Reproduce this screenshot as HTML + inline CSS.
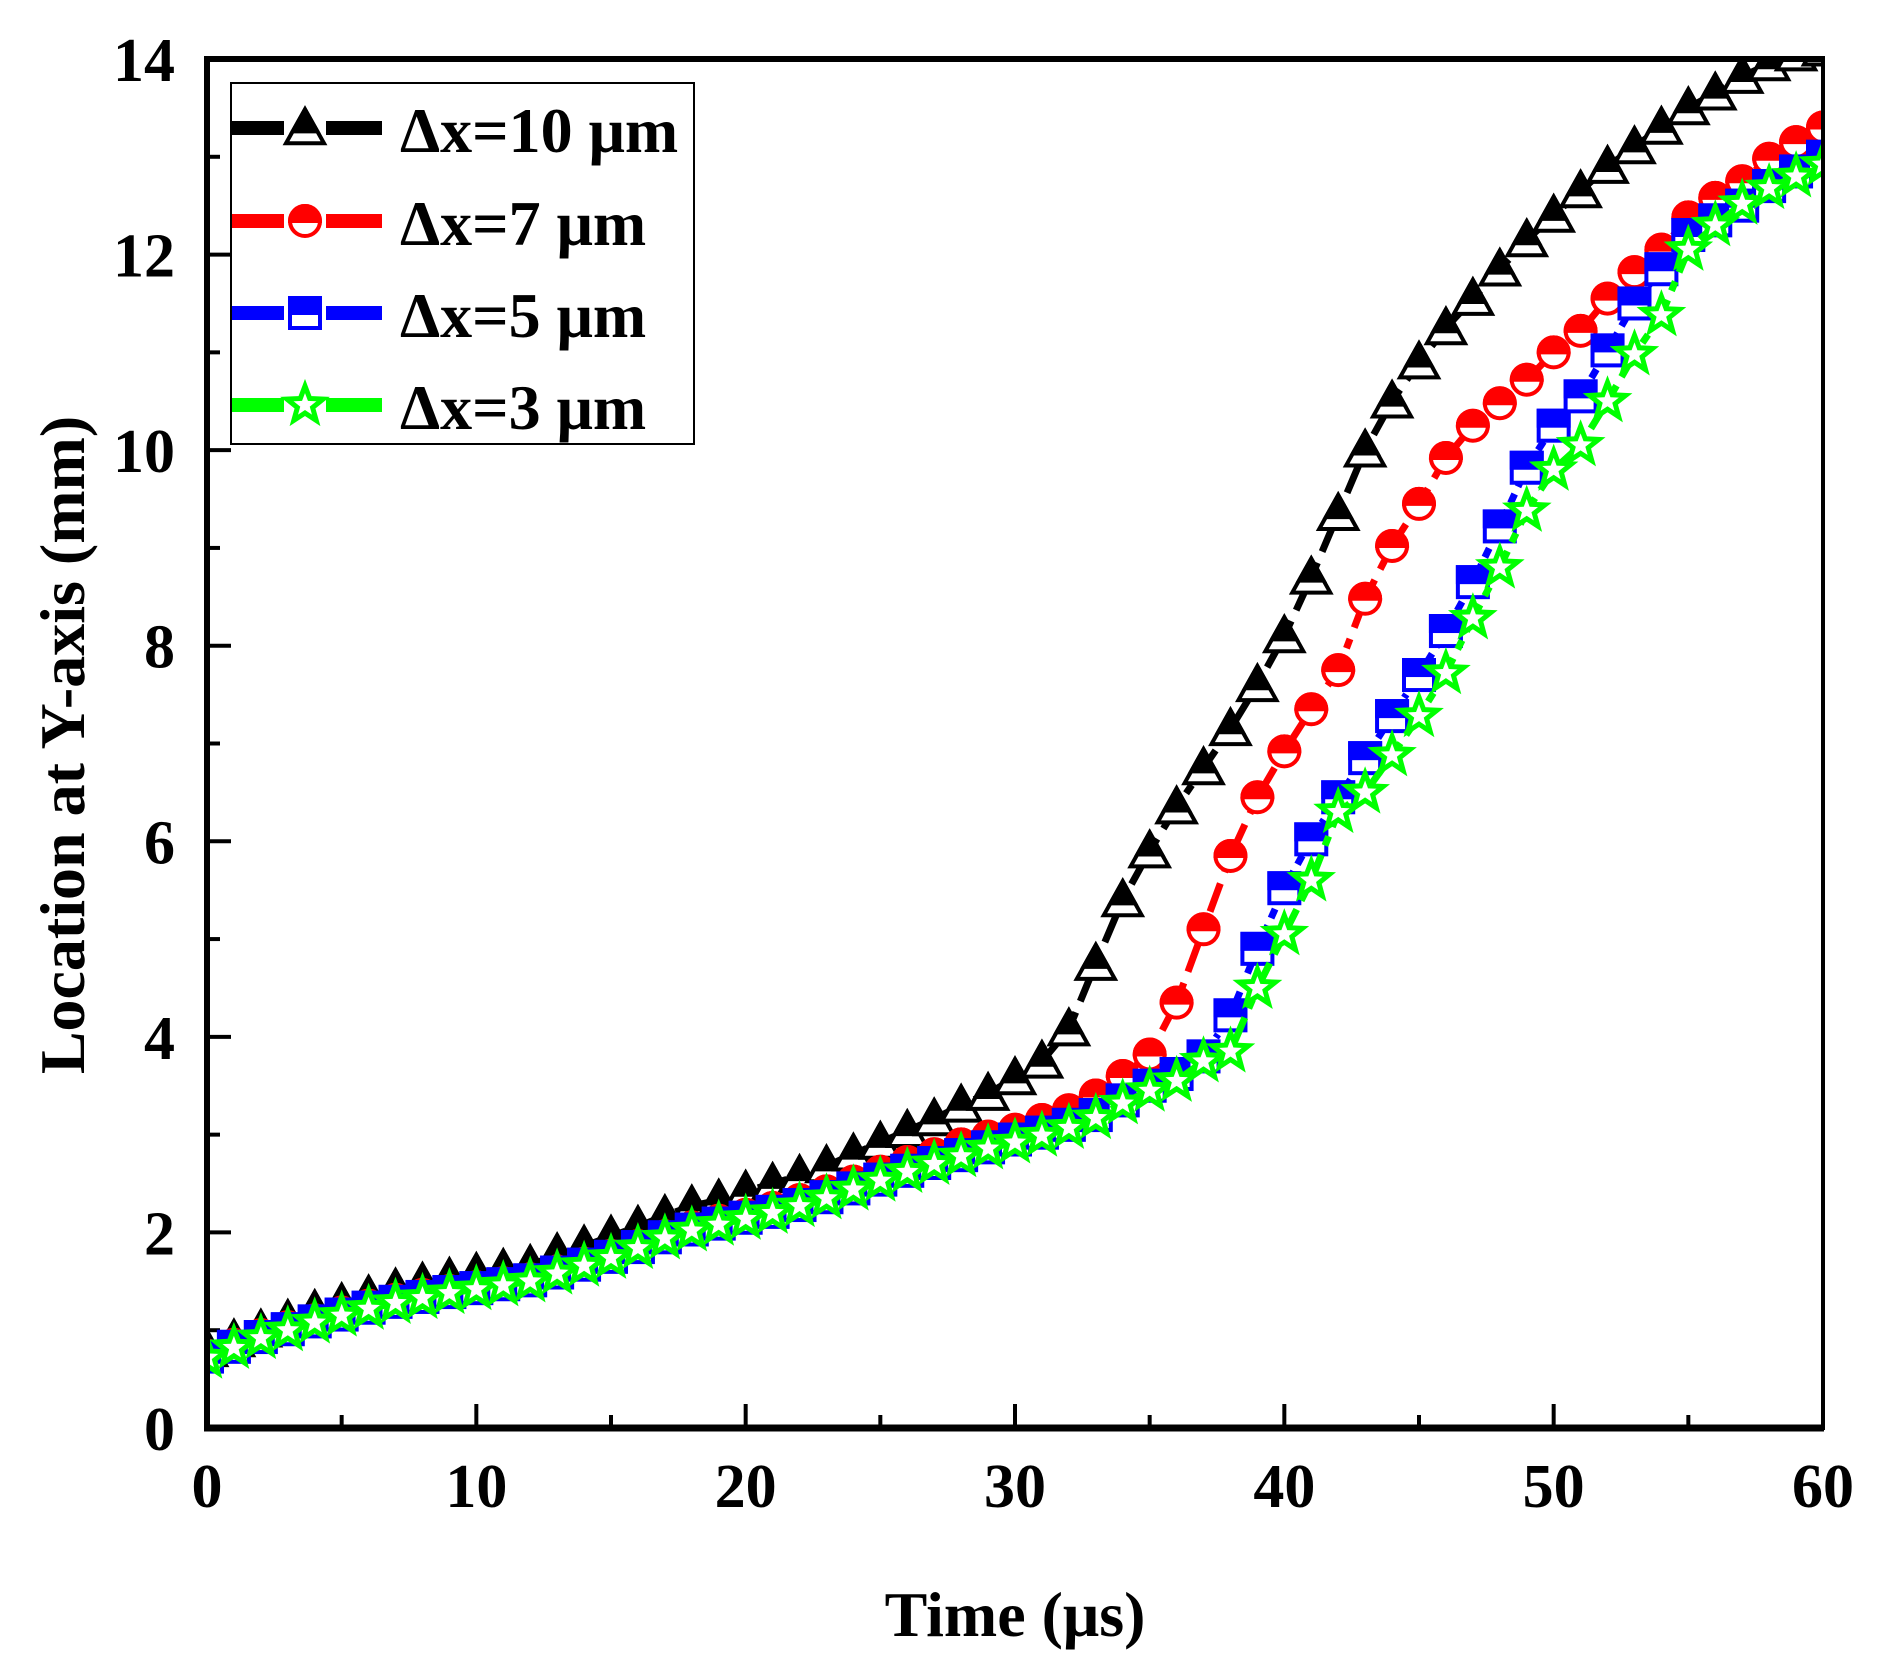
<!DOCTYPE html>
<html><head><meta charset="utf-8"><style>
body{margin:0;background:#fff}
svg{display:block;font-family:"Liberation Serif",serif;font-weight:bold}
</style></head><body>
<svg id="chart" width="1879" height="1678" viewBox="0 0 1879 1678" xmlns="http://www.w3.org/2000/svg">
<defs><clipPath id="plotclip"><rect x="207" y="57" width="1616" height="1371"/></clipPath></defs>
<g id="grid-ticks"></g>
<g id="series" clip-path="url(#plotclip)"></g>
<rect x="207" y="58" width="1616" height="1370" fill="none" stroke="#000" stroke-width="4"/>
<line x1="204" y1="1428" x2="1824" y2="1428" stroke="#000" stroke-width="7"/>
<line x1="207" y1="56" x2="207" y2="1431" stroke="#000" stroke-width="6"/>
<line x1="204" y1="59" x2="1824" y2="59" stroke="#000" stroke-width="6"/>
<text x="1015" y="1636" font-size="64" text-anchor="middle">Time (μs)</text>
<text transform="translate(84,745) rotate(-90)" font-size="64" text-anchor="middle">Location at Y-axis (mm)</text>
<g id="legend">
<rect x="231" y="83" width="463" height="361" fill="#fff" stroke="#000" stroke-width="2"/>
</g>
</svg>
<script>
const times = [];
for (let i = 0; i <= 60; i++) times.push(i);
const xTicks = [0,10,20,30,40,50,60];
const yTicks = [0,2,4,6,8,10,12,14];
const seriesNames = ["Δx=10 μm","Δx=7 μm","Δx=5 μm","Δx=3 μm"];
const s10 = [0.8,0.9,1.0,1.1,1.2,1.27,1.35,1.42,1.48,1.53,1.58,1.62,1.66,1.78,1.86,1.96,2.06,2.17,2.27,2.33,2.42,2.5,2.58,2.68,2.8,2.92,3.04,3.16,3.3,3.42,3.58,3.75,4.08,4.75,5.4,5.9,6.35,6.75,7.15,7.6,8.1,8.7,9.35,10.0,10.5,10.9,11.25,11.55,11.85,12.15,12.4,12.65,12.9,13.1,13.3,13.5,13.65,13.82,13.95,14.05,14.1];
const s7 = [0.74,0.85,0.95,1.03,1.1,1.18,1.25,1.31,1.36,1.4,1.44,1.48,1.52,1.6,1.68,1.76,1.86,1.96,2.05,2.12,2.18,2.25,2.33,2.42,2.52,2.62,2.72,2.8,2.9,2.98,3.05,3.15,3.25,3.4,3.6,3.82,4.35,5.1,5.85,6.45,6.92,7.35,7.75,8.48,9.02,9.45,9.92,10.25,10.48,10.72,11.0,11.22,11.55,11.82,12.05,12.38,12.58,12.75,12.98,13.15,13.3];
const s5 = [0.73,0.83,0.93,1.01,1.09,1.16,1.23,1.29,1.34,1.39,1.43,1.47,1.51,1.59,1.67,1.75,1.85,1.95,2.03,2.09,2.15,2.21,2.28,2.36,2.45,2.54,2.63,2.71,2.79,2.87,2.95,3.02,3.1,3.2,3.35,3.5,3.62,3.8,4.22,4.9,5.52,6.02,6.45,6.85,7.28,7.7,8.15,8.65,9.22,9.82,10.25,10.55,11.02,11.5,11.85,12.2,12.35,12.5,12.7,12.85,13.0];
const s3 = [0.72,0.82,0.92,1.0,1.08,1.15,1.22,1.28,1.33,1.38,1.42,1.46,1.5,1.58,1.66,1.74,1.84,1.94,2.02,2.08,2.14,2.2,2.27,2.35,2.44,2.53,2.62,2.7,2.78,2.86,2.92,2.99,3.07,3.17,3.32,3.45,3.55,3.75,3.85,4.5,5.05,5.6,6.3,6.5,6.88,7.28,7.72,8.28,8.8,9.38,9.8,10.05,10.5,10.98,11.38,12.05,12.3,12.52,12.68,12.8,12.92];

const X0=207,X1=1823,Y0=1428,Y1=59;
const xs = v => X0 + (v-0)/(60-0)*(X1-X0);
const ys = v => Y0 - (v-0)/(14-0)*(Y0-Y1);
const NS="http://www.w3.org/2000/svg";
function mk(tag, attrs, parent){const e=document.createElementNS(NS,tag);for(const k in attrs)e.setAttribute(k,attrs[k]);parent.appendChild(e);return e;}
const tg=document.getElementById('grid-ticks');
for(let v=0; v<=60; v+=5){
  const major = v%10===0;
  const t=mk('line',{x1:xs(v),x2:xs(v),y1:Y0,y2:Y0-(major?24:13),stroke:'#000','stroke-width':4},tg);
  
  
}
xTicks.forEach(v=>{
  const t=mk('text',{x:xs(v),y:1507,'font-size':62,'text-anchor':'middle'},tg);
  t.textContent=v;
  
  
});
for(let v=0; v<=14; v+=1){
  const major = v%2===0;
  const t=mk('line',{x1:X0,x2:X0+(major?24:13),y1:ys(v),y2:ys(v),stroke:'#000','stroke-width':4},tg);
  
  
}
yTicks.forEach(v=>{
  const t=mk('text',{x:175,y:ys(v)+22,'font-size':62,'text-anchor':'end'},tg);
  t.textContent=v;
  
  
});

function marker(kind,color,cx,cy,g){
  const r=17;
  if(kind==='tri'){
    const h=34, w=38;
    const top=cy-h*0.55, bot=cy+h*0.45;
    mk('polygon',{points:`${cx},${top} ${cx-w/2},${bot} ${cx+w/2},${bot}`,fill:'#fff',stroke:color,'stroke-width':4,'stroke-linejoin':'miter'},g);
    const cut=top+h*0.65; const f=(cut-top)/h;
    mk('polygon',{points:`${cx},${top} ${cx-w/2*f},${cut} ${cx+w/2*f},${cut}`,fill:color,stroke:color,'stroke-width':4},g);
  } else if(kind==='circ'){
    mk('circle',{cx:cx,cy:cy,r:r-2,fill:'#fff',stroke:color,'stroke-width':4},g);
    mk('path',{d:`M${cx-r+2},${cy} A${r-2},${r-2} 0 0 1 ${cx+r-2},${cy} Z`,fill:color,stroke:color,'stroke-width':4},g);
  } else if(kind==='sq'){
    const s=30;
    mk('rect',{x:cx-s/2,y:cy-s/2,width:s,height:s,fill:'#fff',stroke:color,'stroke-width':4},g);
    mk('rect',{x:cx-s/2,y:cy-s/2,width:s,height:s/2,fill:color,stroke:color,'stroke-width':4},g);
  } else {
    const pts=[];const R=19,ri=8;
    for(let i=0;i<10;i++){const a=-Math.PI/2+i*Math.PI/5;const rr=i%2?ri:R;pts.push((cx+rr*Math.cos(a)).toFixed(1)+','+(cy+rr*Math.sin(a)).toFixed(1));}
    mk('polygon',{points:pts.join(' '),fill:'#fff',stroke:color,'stroke-width':5,'stroke-linejoin':'miter'},g);
  }
}
const defs=[
 {data:s10,color:'#000000',kind:'tri',dash:'30 12 10 12'},
 {data:s7,color:'#ff0000',kind:'circ',dash:'30 12 10 12'},
 {data:s5,color:'#0000ff',kind:'sq',dash:'10 8 4 8'},
 {data:s3,color:'#00ff00',kind:'star',dash:'30 10 10 10'}
];
const sg=document.getElementById('series');
const keys=['dx10','dx7','dx5','dx3'];
defs.forEach((d,i)=>{
  const g=mk('g',{},sg);
  
  
  const p=mk('polyline',{points:d.data.map((v,j)=>xs(times[j])+','+ys(v)).join(' '),fill:'none',stroke:d.color,'stroke-width':7,'stroke-dasharray':d.dash},g);
  
  
  d.data.forEach((v,j)=>{
    const m=mk('g',{},g);
    
    
    marker(d.kind,d.color,xs(times[j]),ys(v),m);
  });
});
const lg=document.getElementById('legend');
const ly=[128,221,313,405];
defs.forEach((d,i)=>{
  const g=mk('g',{},lg);
  
  
  mk('line',{x1:232,x2:284,y1:ly[i],y2:ly[i],stroke:d.color,'stroke-width':14},g);
  mk('line',{x1:326,x2:382,y1:ly[i],y2:ly[i],stroke:d.color,'stroke-width':14},g);
  marker(d.kind,d.color,305,ly[i],g);
  const t=mk('text',{x:400,y:ly[i]+24,'font-size':64},g);
  t.textContent=seriesNames[i];
});
</script>
</body></html>
